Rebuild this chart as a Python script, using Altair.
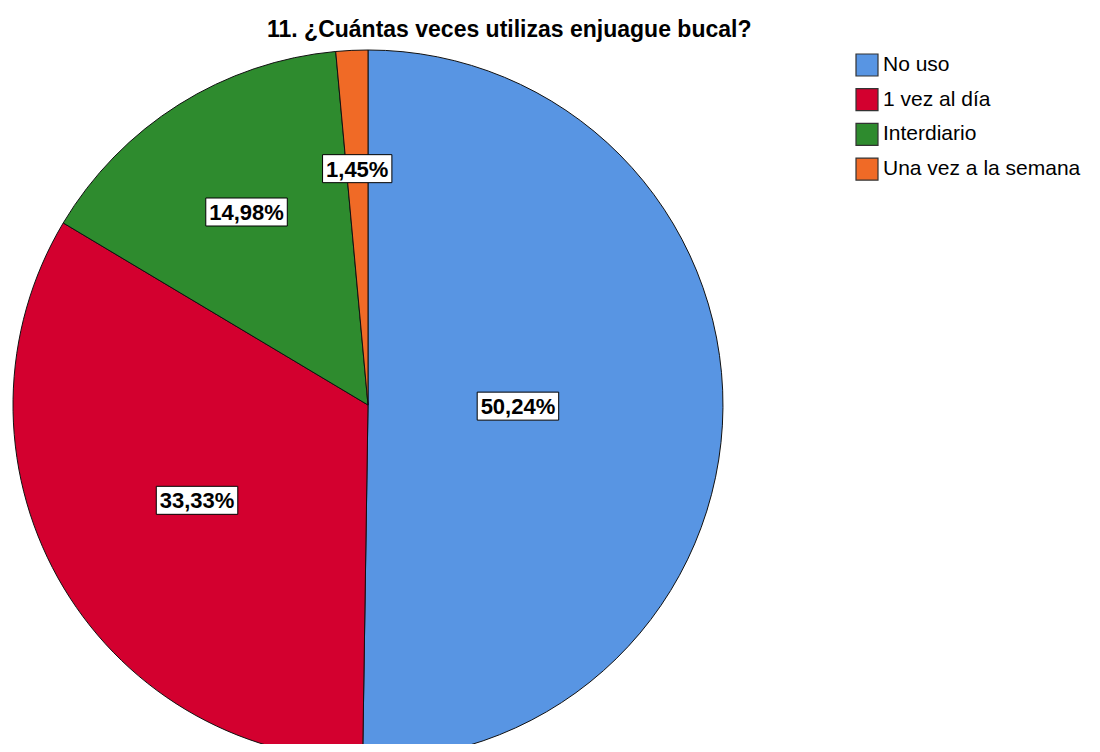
import altair as alt
import pandas as pd

# ---- data ----
categories = ["No uso", "1 vez al día", "Interdiario", "Una vez a  la semana"]
percents = [50.24, 33.33, 14.98, 1.45]
colors = ["#5895E3", "#D3002F", "#2E8B2E", "#F06A26"]
title_text = "11. ¿Cuántas veces utilizas enjuague bucal?"

df = pd.DataFrame({
    "categoria": categories,
    "porcentaje": percents,
    "orden": list(range(len(categories))),
})

FONT = "Liberation Sans"
W, H = 1084, 736
CX, CY, R = 360, 397, 355

color = alt.Color(
    "categoria:N",
    scale=alt.Scale(domain=categories, range=colors),
    sort=categories,
    legend=alt.Legend(
        title=None, orient="none", legendX=847, legendY=45,
        symbolType="square", symbolSize=484,
        symbolStrokeColor="#333333", symbolStrokeWidth=1.2,
        labelFontSize=21, labelFont=FONT, labelColor="black",
        rowPadding=6.7, labelOffset=4, padding=0, labelLimit=400,
    ),
)

base = alt.Chart(df)

pie = base.mark_arc(radius=R, stroke="#111111", strokeWidth=1).encode(
    theta=alt.Theta("porcentaje:Q", stack=True),
    order=alt.Order("orden:Q"),
    color=color,
    x=alt.value(CX),
    y=alt.value(CY),
)

lab = base.transform_window(
    cum="sum(porcentaje)", sort=[alt.SortField("orden")], frame=[None, 0]
).transform_joinaggregate(
    total="sum(porcentaje)"
).transform_calculate(
    a0="2*PI*(datum.cum - datum.porcentaje)/datum.total",
    a1="2*PI*datum.cum/datum.total",
).transform_calculate(
    mid="(datum.a0 + datum.a1)/2",
    half="(datum.a1 - datum.a0)/2",
).transform_calculate(
    d=f"2*{R}*sin(datum.half)/(3*datum.half)",
).transform_calculate(
    lx=f"{CX} + datum.d*sin(datum.mid)",
    ly=f"{CY} - datum.d*cos(datum.mid)",
    texto="replace(format(datum.porcentaje, '.2f'), '.', ',') + '%'",
).transform_calculate(
    bw="12.2*(length(datum.texto) - 2) + 32.7",
).transform_calculate(
    bx0="datum.lx - datum.bw/2",
    bx1="datum.lx + datum.bw/2",
    by0="datum.ly - 14",
    by1="datum.ly + 14",
)

boxes = lab.mark_rect(fill="white", stroke="black", strokeWidth=1).encode(
    x=alt.X("bx0:Q", scale=None, axis=None),
    x2="bx1:Q",
    y=alt.Y("by0:Q", scale=None, axis=None),
    y2="by1:Q",
)

texts = lab.mark_text(
    font=FONT, fontSize=22, fontWeight="bold", color="black",
    align="center", baseline="middle", dy=1,
).encode(
    x=alt.X("lx:Q", scale=None, axis=None),
    y=alt.Y("ly:Q", scale=None, axis=None),
    text="texto:N",
)

chart = alt.layer(pie, boxes, texts).properties(
    width=W,
    height=H,
    padding=0,
    autosize=alt.AutoSizeParams(type="none"),
    title=alt.TitleParams(
        text=title_text, orient="top", anchor="start", frame="group",
        offset=0, dx=259, dy=52, font=FONT, fontSize=23, fontWeight="bold",
        color="black", baseline="alphabetic",
    ),
).configure_view(stroke=None)

chart.save("out.html", embed_options={"renderer": "svg", "actions": False})
